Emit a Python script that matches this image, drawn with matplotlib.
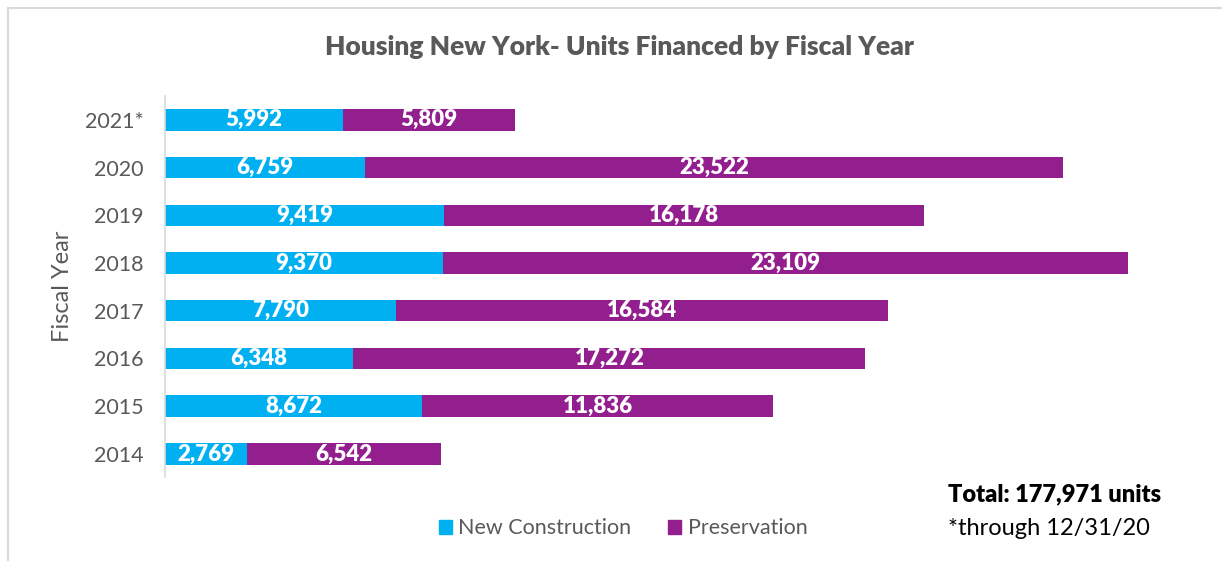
import matplotlib.pyplot as plt
from matplotlib.lines import Line2D
from matplotlib.patches import Patch

plt.rcParams['font.family'] = ['Lato', 'DejaVu Sans']

# данные
years = ['2014', '2015', '2016', '2017', '2018', '2019', '2020', '2021*']
new_construction = [2769, 8672, 6348, 7790, 9370, 9419, 6759, 5992]
preservation = [6542, 11836, 17272, 16584, 23109, 16178, 23522, 5809]

cyan = '#00B0F0'
purple = '#931F8F'
gray = '#595959'

fig = plt.figure(figsize=(12.22, 5.61), dpi=100)
ax = fig.add_axes([0.135, 0.150, 0.825, 0.679])

pos = range(len(years))
ax.barh(pos, new_construction, height=0.45, color=cyan)
ax.barh(pos, preservation, left=new_construction, height=0.45, color=purple)

# подписи внутри сегментов
for i in pos:
    nc = new_construction[i]
    pr = preservation[i]
    ax.text(nc / 2, i, f'{nc:,}', ha='center', va='center', color='white',
            fontsize=16, fontweight='heavy')
    ax.text(nc + pr / 2, i, f'{pr:,}', ha='center', va='center', color='white',
            fontsize=16, fontweight='heavy')

ax.set_xlim(0, 34000)
ax.set_ylim(-0.48, 7.5)
ax.set_yticks(list(pos))
ax.set_yticklabels(years, fontsize=15.5, color=gray)
ax.tick_params(axis='y', length=0, pad=15.5)
ax.set_xticks([])
for s in ['top', 'right', 'bottom']:
    ax.spines[s].set_visible(False)
ax.spines['left'].set_color('#D9D9D9')
ax.spines['left'].set_linewidth(1.2)

fig.text(0.051, 0.49, 'Fiscal Year', rotation=90, ha='center', va='center',
         fontsize=17, color=gray)
fig.text(0.507, 0.916, 'Housing New York- Units Financed by Fiscal Year',
         ha='center', va='center', fontsize=19, fontweight='heavy', color=gray)

handles = [Patch(color=cyan, label='New Construction'),
           Patch(color=purple, label='Preservation')]
fig.legend(handles=handles, loc='center', bbox_to_anchor=(0.51, 0.058), ncol=2,
           frameon=False, fontsize=15.5, labelcolor=gray, handlelength=0.6,
           handleheight=0.6, handletextpad=0.3, columnspacing=1.7)

fig.text(0.776, 0.119, 'Total: 177,971 units', ha='left', va='center',
         fontsize=17, fontweight='heavy', color='black')
fig.text(0.776, 0.058, '*through 12/31/20', ha='left', va='center',
         fontsize=17, color='black')

# рамка
fig.add_artist(Line2D([0.0065, 0.0065], [0, 0.986], color='#D9D9D9', lw=1.5))
fig.add_artist(Line2D([0.0065, 1], [0.986, 0.986], color='#D9D9D9', lw=1.5))

fig.savefig('out.png', dpi=100)
